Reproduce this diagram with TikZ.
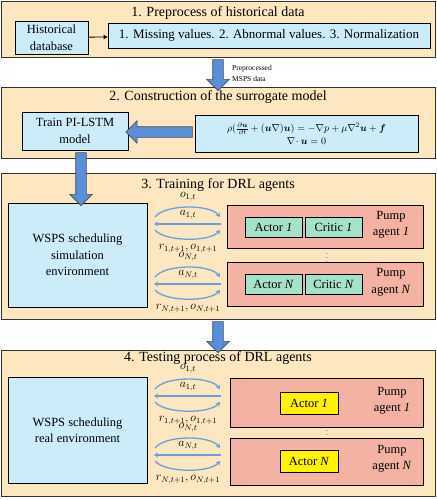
\documentclass[tikz,border=0pt]{standalone}
\usepackage{amsmath,amssymb}
\usepackage{fontspec}
\setmainfont{Liberation Serif}
\usetikzlibrary{shapes.arrows,arrows.meta}

\definecolor{stagebg}{RGB}{252,231,192}
\definecolor{envblue}{RGB}{204,236,250}
\definecolor{agentred}{RGB}{244,178,162}
\definecolor{netgreen}{RGB}{166,226,200}
\definecolor{flowblue}{RGB}{91,142,216}
\definecolor{linkblue}{RGB}{108,158,220}

\begin{document}
\begin{tikzpicture}[x=1pt, y=-1pt,
    every node/.style={inner sep=1pt, font=\fontsize{12.5}{16.5}\selectfont},
    stage/.style={draw=black!80, line width=0.9pt, fill=stagebg, minimum width=434pt},
    title/.style={font=\fontsize{14}{16}\selectfont},
    envbox/.style={draw, fill=envblue, line width=0.7pt, align=center},
    agentbox/.style={draw, fill=agentred, line width=0.7pt, minimum width=196pt},
    netbox/.style={draw, fill=netgreen, line width=0.7pt, minimum width=57pt, minimum height=20pt},
    bigarrow/.style={single arrow, draw=black!70, line width=0.6pt, fill=flowblue, inner sep=5pt,
        single arrow head extend=6pt},
    link/.style={draw=linkblue, line width=1.3pt, -{Stealth[length=4pt,width=5pt]}},
    lab/.style={font=\fontsize{11.5}{12}\selectfont}]
    \useasboundingbox (0,0) rectangle (436,500);

    % stage 1
    \node[stage, minimum height=56pt] (S1) at (218,29) {};
    \node[title] (T1) at (218,13) {1. Preprocess of historical data};
    \node[envbox, minimum width=73pt, minimum height=33pt] (hist) at (51.5,37.5) {Historical\\database};
    \node[envbox, minimum width=322pt, minimum height=25pt, font=\fontsize{13}{16}\selectfont] (clean) at (269,35.5)
        {1. Missing values. 2. Abnormal values. 3. Normalization};
    \draw[line width=0.8pt, -{Triangle[length=4pt,width=4pt]}] (hist) -- (clean);
    \node[anchor=west, align=left, font=\fontsize{7.5}{11}\selectfont] (prep) at (231,73.5)
        {Preprocessed\\MSPS data};

    % stage 2
    \node[stage, minimum height=71pt] (S2) at (218,122.5) {};
    \node[title] (T2) at (218,97) {2. Construction of the surrogate model};
    \node[envbox, minimum width=106pt, minimum height=38pt] (train) at (75,131) {Train PI-LSTM\\model};
    \node[envbox, minimum width=223pt, minimum height=37pt, font=\fontsize{10}{13}\selectfont] (eq) at (306.5,133.5)
        {$\rho(\frac{\partial\boldsymbol{u}}{\partial t}+(\boldsymbol{u}\nabla)\boldsymbol{u})
          =-\nabla p+\mu\nabla^{2}\boldsymbol{u}+\boldsymbol{f}$\\
         $\nabla\!\cdot\boldsymbol{u}=0$};

    % stage 3
    \node[stage, minimum height=146pt] (S3) at (218,246) {};
    \node[title] (T3) at (218,185) {3. Training for DRL agents};
    \node[envbox, minimum width=139pt, minimum height=104pt] (sim) at (77.5,255)
        {WSPS scheduling\\simulation\\environment};
    \node[agentbox, minimum height=43pt] (P1) at (325,226.5) {};
    \node[netbox] (act1) at (273.5,227) {Actor \textit{1}};
    \node[netbox] (crit1) at (333.5,227) {Critic \textit{1}};
    \node[align=center] (pa1) at (391,225) {Pump\\agent \textit{1}};
    \node[font=\fontsize{7}{7}\selectfont] (dots1) at (327,255) {$\vdots$};
    \node[agentbox, minimum height=44pt] (PN) at (325,284.5) {};
    \node[netbox] (actN) at (273.5,284) {Actor \textit{N}};
    \node[netbox] (critN) at (333.5,284) {Critic \textit{N}};
    \node[align=center] (paN) at (391,282.5) {Pump\\agent \textit{N}};

    % stage 4
    \node[stage, minimum height=146pt] (S4) at (218,423) {};
    \node[title] (T4) at (218,358) {4. Testing process of DRL agents};
    \node[envbox, minimum width=139pt, minimum height=106pt] (real) at (77.5,430)
        {WSPS scheduling\\real environment};
    \node[agentbox, minimum width=193pt, minimum height=49pt] (R1) at (326.5,402.5) {};
    \node[netbox, fill=yellow, minimum width=58pt, minimum height=22pt] (ract1) at (309,403) {Actor \textit{1}};
    \node[align=center] (ra1) at (392,401) {Pump\\agent \textit{1}};
    \node[font=\fontsize{7}{7}\selectfont] (dots2) at (327,432.5) {$\vdots$};
    \node[agentbox, minimum width=193pt, minimum height=47pt] (RN) at (326.5,461.5) {};
    \node[netbox, fill=yellow, minimum width=58pt, minimum height=22pt] (ractN) at (309,461.5) {Actor \textit{N}};
    \node[align=center] (raN) at (392,459) {Pump\\agent \textit{N}};

    % block arrows between the stages
    \node[bigarrow, rotate=-90, minimum height=31pt] (A1) at (218,72.5) {};
    \node[bigarrow, rotate=180, minimum height=66.5pt] (A2) at (161.75,132) {};
    \node[bigarrow, rotate=-90, minimum height=53pt] (A3) at (81,176.5) {};
    \node[bigarrow, rotate=-90, minimum height=31pt] (A4) at (218,334.5) {};

    % observation / action / reward links
    \foreach \ys/\k [count=\i] in {224/1, 284/N, 396/1, 455/N} {
        \coordinate (l\i) at (154,\ys);
        \coordinate (r\i) at (221,\ys);
        \coordinate (ul\i) at (155,{\ys-7});
        \coordinate (ur\i) at (220,{\ys-7});
        \coordinate (dl\i) at (155,{\ys+6});
        \coordinate (dr\i) at (220,{\ys+6});
        \draw[link] (r\i) -- (l\i);
        \draw[link] (ul\i) .. controls +(10,-13) and +(-10,-13) .. (ur\i);
        \draw[link] (dl\i) .. controls +(10,12) and +(-10,12) .. (dr\i);
        \node[lab] (o\i) at (188,{\ys-27}) {$o_{\k,t}$};
        \node[lab] (a\i) at (188,{\ys-9}) {$a_{\k,t}$};
        \node[lab] (ro\i) at (188,{\ys+25}) {$r_{\k,t+1},o_{\k,t+1}$};
    }
\end{tikzpicture}
\end{document}
